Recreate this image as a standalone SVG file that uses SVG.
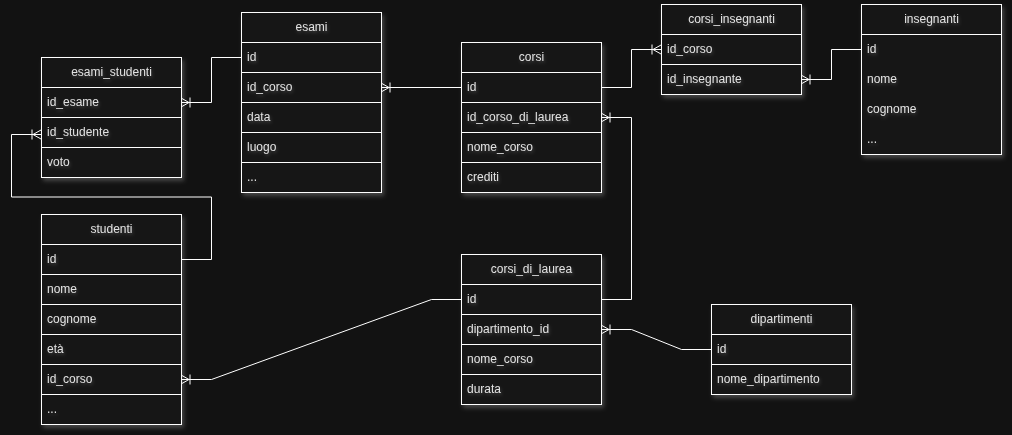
<svg xmlns="http://www.w3.org/2000/svg" width="1012" height="435" viewBox="0 0 1012 435">
<style>
.bg{fill:#121212}
.box{fill:#121212;stroke:#ffffff;stroke-width:1;filter:url(#sh)}
.sep{stroke:#ffffff;stroke-width:1;fill:none}
.t{font-family:"Liberation Sans",Arial,sans-serif;font-size:12px;fill:#e2e2e2;filter:url(#tsh)}
.h{text-anchor:middle}
.c{fill:none;stroke:#ffffff;stroke-width:1}
</style>
<defs>
<filter id="sh" x="-10%" y="-10%" width="130%" height="130%">
<feDropShadow dx="2" dy="3" stdDeviation="2" flood-color="#ffffff" flood-opacity="0.22"/>
</filter>
<filter id="tsh" x="-10%" y="-30%" width="130%" height="180%">
<feDropShadow dx="1" dy="2" stdDeviation="1.5" flood-color="#ffffff" flood-opacity="0.18"/>
</filter>
<marker id="many" viewBox="-12 -6 14 12" refX="0" refY="0" markerWidth="14" markerHeight="12" markerUnits="userSpaceOnUse" orient="auto" overflow="visible">
<path d="M0 -4.5 L-8 0 L0 4.5 M0 0 H-8 M-9 -5 V5" fill="none" stroke="#ffffff" stroke-width="1"/>
</marker>
</defs>
<rect class="bg" x="0" y="0" width="1012" height="435"/>

<g id="connectors">
<path class="c" d="M241 57.5 H211.5 V102.5 H181" marker-end="url(#many)"/>
<path class="c" d="M181 259.5 H211.5 V197 H11.5 V134.5 H41" marker-end="url(#many)"/>
<path class="c" d="M461 87.5 H381" marker-end="url(#many)"/>
<path class="c" d="M601 87.5 H631.5 V49.5 H661" marker-end="url(#many)"/>
<path class="c" d="M861 49.5 H831.5 V79.5 H801" marker-end="url(#many)"/>
<path class="c" d="M601 299.5 H631.5 V117.5 H601" marker-end="url(#many)"/>
<path class="c" d="M461 299.5 H431.5 L211.5 379.5 H181" marker-end="url(#many)"/>
<path class="c" d="M711 349.5 H681.5 L631.5 329.5 H601" marker-end="url(#many)"/>
</g>

<g id="esami_studenti">
<rect class="box" x="41.5" y="57.5" width="140" height="120"/>
<path class="sep" d="M41.5 87.5 H181.5 M41.5 117.5 H181.5 M41.5 147.5 H181.5"/>
<text class="t h" x="111.5" y="75.5">esami_studenti</text>
<text class="t" x="47" y="105.5">id_esame</text>
<text class="t" x="47" y="135.5">id_studente</text>
<text class="t" x="47" y="165.5">voto</text>
</g>

<g id="esami">
<rect class="box" x="241.5" y="12.5" width="140" height="180"/>
<path class="sep" d="M241.5 42.5 H381.5 M241.5 72.5 H381.5 M241.5 102.5 H381.5 M241.5 132.5 H381.5 M241.5 162.5 H381.5"/>
<text class="t h" x="311.5" y="30.5">esami</text>
<text class="t" x="247" y="60.5">id</text>
<text class="t" x="247" y="90.5">id_corso</text>
<text class="t" x="247" y="120.5">data</text>
<text class="t" x="247" y="150.5">luogo</text>
<text class="t" x="247" y="180.5">...</text>
</g>

<g id="corsi">
<rect class="box" x="461.5" y="42.5" width="140" height="150"/>
<path class="sep" d="M461.5 72.5 H601.5 M461.5 102.5 H601.5 M461.5 132.5 H601.5 M461.5 162.5 H601.5"/>
<text class="t h" x="531.5" y="60.5">corsi</text>
<text class="t" x="467" y="90.5">id</text>
<text class="t" x="467" y="120.5">id_corso_di_laurea</text>
<text class="t" x="467" y="150.5">nome_corso</text>
<text class="t" x="467" y="180.5">crediti</text>
</g>

<g id="corsi_insegnanti">
<rect class="box" x="661.5" y="4.5" width="140" height="90"/>
<path class="sep" d="M661.5 34.5 H801.5 M661.5 64.5 H801.5"/>
<text class="t h" x="731.5" y="22.5">corsi_insegnanti</text>
<text class="t" x="667" y="52.5">id_corso</text>
<text class="t" x="667" y="82.5">id_insegnante</text>
</g>

<g id="insegnanti">
<rect class="box" x="861.5" y="4.5" width="140" height="150"/>
<path class="sep" d="M861.5 34.5 H1001.5"/>
<text class="t h" x="931.5" y="22.5">insegnanti</text>
<text class="t" x="867" y="52.5">id</text>
<text class="t" x="867" y="82.5">nome</text>
<text class="t" x="867" y="112.5">cognome</text>
<text class="t" x="867" y="142.5">...</text>
</g>

<g id="studenti">
<rect class="box" x="41.5" y="214.5" width="140" height="210"/>
<path class="sep" d="M41.5 244.5 H181.5 M41.5 274.5 H181.5 M41.5 304.5 H181.5 M41.5 334.5 H181.5 M41.5 364.5 H181.5 M41.5 394.5 H181.5"/>
<text class="t h" x="111.5" y="232.5">studenti</text>
<text class="t" x="47" y="262.5">id</text>
<text class="t" x="47" y="292.5">nome</text>
<text class="t" x="47" y="322.5">cognome</text>
<text class="t" x="47" y="352.5">età</text>
<text class="t" x="47" y="382.5">id_corso</text>
<text class="t" x="47" y="412.5">...</text>
</g>

<g id="corsi_di_laurea">
<rect class="box" x="461.5" y="254.5" width="140" height="150"/>
<path class="sep" d="M461.5 284.5 H601.5 M461.5 314.5 H601.5 M461.5 344.5 H601.5 M461.5 374.5 H601.5"/>
<text class="t h" x="531.5" y="272.5">corsi_di_laurea</text>
<text class="t" x="467" y="302.5">id</text>
<text class="t" x="467" y="332.5">dipartimento_id</text>
<text class="t" x="467" y="362.5">nome_corso</text>
<text class="t" x="467" y="392.5">durata</text>
</g>

<g id="dipartimenti">
<rect class="box" x="711.5" y="304.5" width="140" height="90"/>
<path class="sep" d="M711.5 334.5 H851.5 M711.5 364.5 H851.5"/>
<text class="t h" x="781.5" y="322.5">dipartimenti</text>
<text class="t" x="717" y="352.5">id</text>
<text class="t" x="717" y="382.5">nome_dipartimento</text>
</g>
</svg>
